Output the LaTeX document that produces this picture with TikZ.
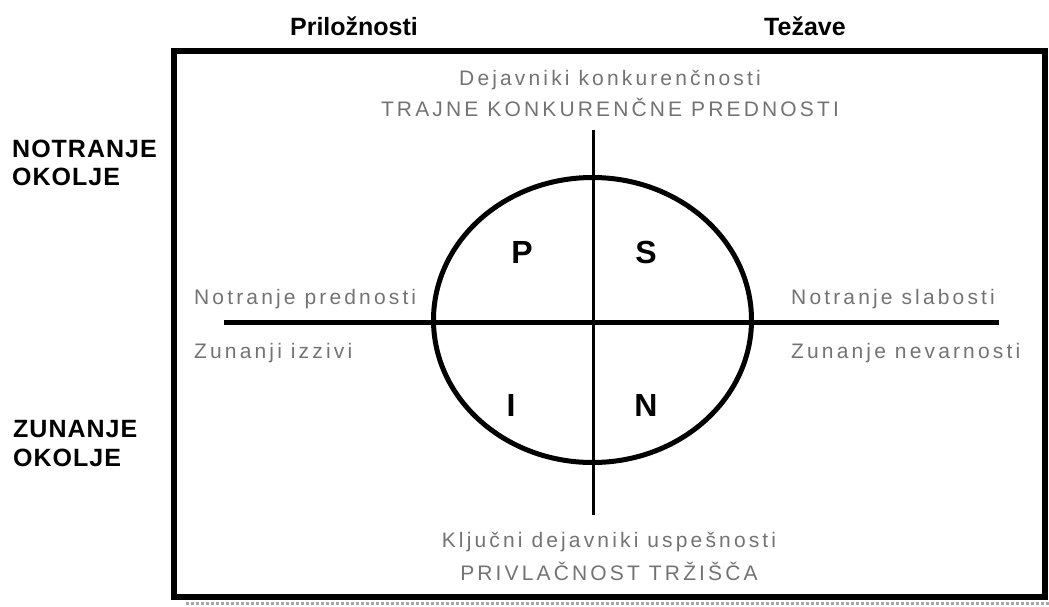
\documentclass[tikz,border=0pt]{standalone}
\usepackage{fontspec}
\setmainfont{Liberation Sans}
\newfontfamily\spacedfont[LetterSpace=15]{Liberation Sans}
\newfontfamily\capsfont[LetterSpace=4]{Liberation Sans}
\begin{document}
\begin{tikzpicture}[x=1pt,y=-1pt,
  frame/.style={line width=6pt, draw=black},
  shadowline/.style={line width=3pt, draw=black!35, dotted},
  axis/.style={line width=5pt, draw=black},
  vaxis/.style={line width=3pt, draw=black},
  ring/.style={line width=5pt, draw=black},
  head/.style={font=\bfseries\fontsize{25}{30}\selectfont, anchor=base, inner sep=0pt},
  side/.style={font=\capsfont\bfseries\fontsize{25}{30}\selectfont, anchor=base west, inner sep=0pt},
  greytext/.style={font=\spacedfont\fontsize{21}{25}\selectfont, text=black!55, inner sep=0pt},
  quad/.style={font=\bfseries\fontsize{32}{36}\selectfont, inner sep=0pt}]
\useasboundingbox (0,0) rectangle (1049,606);

% outer frame
\draw[shadowline] (186,603) -- (1049,603);
\draw[frame] (174,51) rectangle (1045,597);

% column headings
\node[head] (prilo) at (354,35) {Priložnosti};
\node[head] (tezave) at (805,35) {Težave};

% row headings
\node[side] (notr1) at (12,157) {NOTRANJE};
\node[side] (notr2) at (12,185) {OKOLJE};
\node[side] (zun1) at (13,437) {ZUNANJE};
\node[side] (zun2) at (13,466) {OKOLJE};

% axes
\coordinate (hl) at (224,322);
\coordinate (hr) at (999,322);
\coordinate (vt) at (593,130);
\coordinate (vb) at (593,515);
\draw[vaxis] (vt) -- (vb);
\draw[ring] (592.5,320) ellipse [x radius=159, y radius=142.5];
\draw[axis] (hl) -- (hr);

% quadrant letters
\node[quad] (P) at (522,252) {P};
\node[quad] (S) at (646,252) {S};
\node[quad] (I) at (511,405) {I};
\node[quad] (N) at (646,405) {N};

% top texts
\node[greytext, anchor=base] (dk) at (610,85) {Dejavniki konkurenčnosti};
\node[greytext, anchor=base] (tkp) at (610,116) {TRAJNE KONKURENČNE PREDNOSTI};

% side texts
\node[greytext, anchor=base west] (np) at (194,304) {Notranje prednosti};
\node[greytext, anchor=base west] (zi) at (194,358) {Zunanji izzivi};
\node[greytext, anchor=base west] (ns) at (791,304) {Notranje slabosti};
\node[greytext, anchor=base west] (zn) at (791,358) {Zunanje nevarnosti};

% bottom texts
\node[greytext, anchor=base] (kdu) at (609,547) {Ključni dejavniki uspešnosti};
\node[greytext, anchor=base] (pt) at (609,580) {PRIVLAČNOST TRŽIŠČA};
\end{tikzpicture}
\end{document}
